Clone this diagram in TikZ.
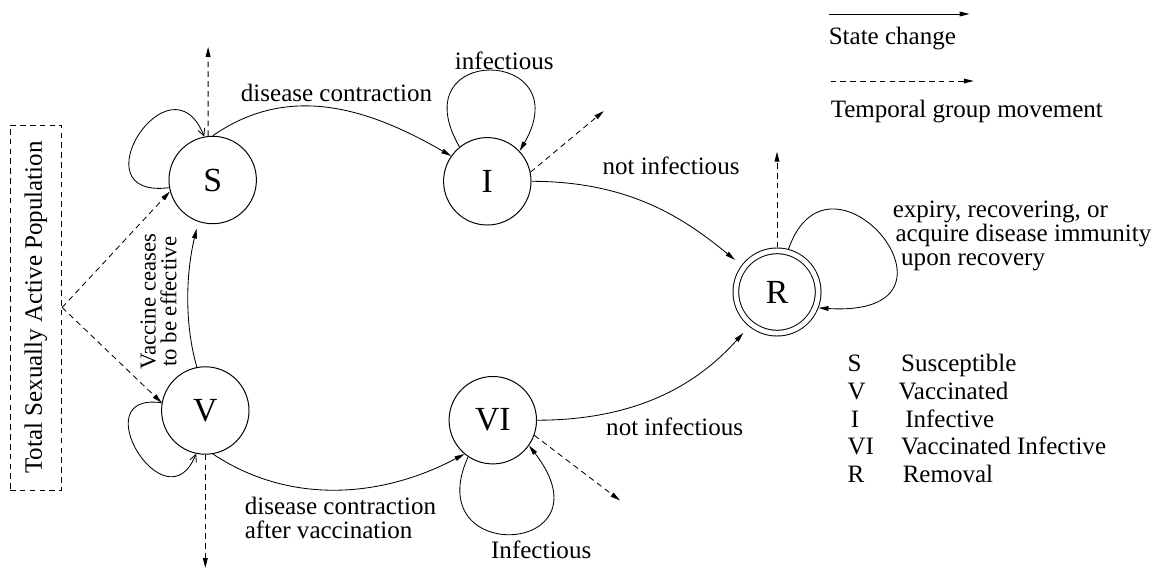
\documentclass[tikz,border=0pt]{standalone}
\usepackage{fontspec}
\setmainfont{Liberation Serif}
\usepackage{graphicx}
\usetikzlibrary{arrows.meta}
\tikzstyle{state} = [circle, draw=black, line width=0.7pt, minimum size=2.185cm, inner sep=0pt, font=\fontsize{24}{28}\selectfont]
\tikzstyle{final} = [state, double, double distance=3.35pt, minimum size=2.0575cm, outer sep=2.4pt]
\tikzstyle{lbl} = [inner sep=0pt]
\tikzstyle{popbox} = [draw=black, line width=0.6pt, dash pattern=on 4pt off 3pt, minimum width=1.2925cm, minimum height=9.125cm, inner sep=0pt]
\tikzstyle{arrow} = [line width=0.6pt, -{Triangle[length=7pt,width=3.4pt]}]
\tikzstyle{move} = [arrow, dash pattern=on 4pt off 3pt]
\tikzstyle{selfopen} = [line width=0.6pt, -{Straight Barb[length=5pt,width=5pt]}]

\begin{document}
\begin{tikzpicture}[x=0.025cm, y=0.025cm, font=\fontsize{17.8}{17}\selectfont]
\useasboundingbox (0,0) rectangle (1156,-571);

%States
\node (S) [state] at (212.7,-180) {S};
\node (I) [state] at (487.3,-181.3) {I};
\node (V) [state] at (205.3,-410.5) {V};
\node (VI) [state] at (492.8,-420.2) {VI};
\node (R) [final] at (777,-292) {R};
%Population
\node (pop) [popbox] at (35.85,-307.5) {\rotatebox{90}{Total Sexually Active Population}};

%Labels
\node (contract) [lbl, anchor=base] at (336.5,-101.7) {disease contraction};
\node (infI) [lbl, anchor=base] at (504.3,-69.5) {infectious};
\node (notinfI) [lbl, anchor=base] at (671,-174.5) {not infectious};
\node (notinfVI) [lbl, anchor=base] at (674.7,-435.5) {not infectious};
\node (infVI) [lbl, anchor=base] at (541.2,-558) {Infectious};
\node (contractV) [lbl, anchor=north west, align=left] at (244.6,-497) {disease contraction\\after vaccination};
\node (expiry) [lbl, anchor=north west, align=left] at (892.5,-200.9) {expiry, recovering, or\\\hspace*{2pt}acquire disease immunity\\\hspace*{6pt}upon recovery};
\node (vacc) [lbl, rotate=90, align=center, font=\fontsize{16.2}{14.7}\selectfont] at (158.5,-301.7) {Vaccine ceases\\to be effective};

%Key
\coordinate (solidA) at (828.5,-14);
\coordinate (solidB) at (969.5,-14);
\coordinate (dashA) at (830.5,-81);
\coordinate (dashB) at (973.6,-81);
\node (statechange) [lbl, anchor=base west] at (828.5,-45) {State change};
\node (temporal) [lbl, anchor=base west] at (830.5,-118) {Temporal group movement};
\node (keyS) [lbl, anchor=base west] at (847.3,-371.7) {S};
\node (keySt) [lbl, anchor=base west] at (900.8,-371.7) {Susceptible};
\node (keyV) [lbl, anchor=base west] at (847.3,-399.3) {V};
\node (keyVt) [lbl, anchor=base west] at (898.3,-399.3) {Vaccinated};
\node (keyI) [lbl, anchor=base west] at (850.5,-427) {I};
\node (keyIt) [lbl, anchor=base west] at (905,-427) {Infective};
\node (keyVI) [lbl, anchor=base west] at (847.3,-454.7) {VI};
\node (keyVIt) [lbl, anchor=base west] at (900.8,-454.7) {Vaccinated Infective};
\node (keyR) [lbl, anchor=base west] at (847.3,-482.4) {R};
\node (keyRt) [lbl, anchor=base west] at (902.5,-482.4) {Removal};

%Free ends
\coordinate (Sup) at (208.1,-47);
\coordinate (Iup) at (603.8,-111);
\coordinate (Rup) at (777,-151.7);
\coordinate (VIdown) at (620,-500.5);
\coordinate (Vdown) at (205.3,-568);

%arrows
\draw [arrow] (solidA) -- (solidB);
\draw [move] (dashA) -- (dashB);
\draw [arrow] (S.90) .. controls +(76,53) and +(-83,48) .. (I.145);
\draw [arrow] (V.280) .. controls +(75,-50) and +(-85,-45) .. (VI.230);
\draw [arrow, shorten >=6pt] (I.0) .. controls +(100,0) and +(-55,45) .. (R.143);
\draw [arrow, shorten >=6pt] (VI.0) .. controls +(110,0) and +(-45,-50) .. (R.231);
\draw [arrow, shorten >=5pt] (V.101) .. controls +(-13,45) and +(-12,-50) .. (S.251);
\draw [arrow] (I.129) .. controls +(-60,104) and +(60,104) .. (I.43);
\draw [arrow] (VI.236) .. controls +(-50,-110) and +(85,-110) .. (VI.325);
\draw [arrow] (R.75) .. controls +(42,120) and +(167,-10) .. (R.339);
\draw [selfopen] (S.190) .. controls +(-94,-12) and +(-34,85) .. (S.101);
\draw [selfopen] (V.170) .. controls +(-80,12) and +(-30,-75) .. (V.258);
\draw [move] (S.96) -- (Sup);
\draw [move] (I.12) -- (Iup);
\draw [move] (R.90) -- (Rup);
\draw [move] (VI.340) -- (VIdown);
\draw [move] (V.270) -- (Vdown);
\draw [move] (pop.east) -- (S.195);
\draw [move] (pop.east) -- (V.170);

\end{tikzpicture}
\end{document}
